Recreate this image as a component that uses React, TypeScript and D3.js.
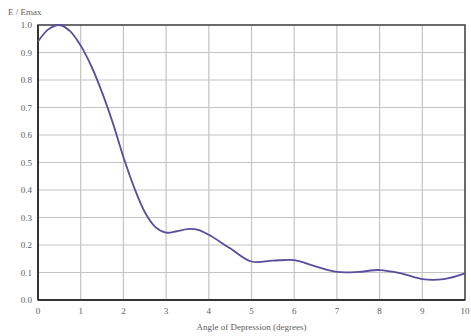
import { useEffect, useRef } from 'react';
import * as d3 from 'd3';

// angle of depression (degrees) vs relative field strength E / Emax
const angles = [0, 0.25, 0.5, 0.75, 1, 1.25, 1.5, 1.75, 2, 2.25, 2.5, 2.75, 3, 3.25, 3.5, 3.75, 4, 4.5, 5, 5.5, 6, 6.5, 7, 7.5, 8, 8.5, 9, 9.5, 10];
const ratios = [0.94, 0.985, 1.0, 0.978, 0.925, 0.85, 0.755, 0.645, 0.52, 0.41, 0.32, 0.265, 0.245, 0.25, 0.258, 0.255, 0.237, 0.188, 0.14, 0.143, 0.145, 0.122, 0.102, 0.102, 0.109, 0.097, 0.076, 0.076, 0.097];

const xTicks = [0, 1, 2, 3, 4, 5, 6, 7, 8, 9, 10];
const yTicks = [0, 0.1, 0.2, 0.3, 0.4, 0.5, 0.6, 0.7, 0.8, 0.9, 1.0];

const App = () => {
    const ref = useRef<SVGSVGElement>(null);

    useEffect(() => {
        const svg = d3.select(ref.current);
        svg.selectAll('*').remove();

        const width = 471;
        const height = 336;
        const margin = { top: 25, right: 6, bottom: 36, left: 38 };

        const x = d3.scaleLinear()
            .domain([0, 10])
            .range([margin.left, width - margin.right]);

        const y = d3.scaleLinear()
            .domain([0, 1])
            .range([height - margin.bottom, margin.top]);

        const font = '"Liberation Serif", "Times New Roman", serif';

        // grid
        svg.append('g')
            .selectAll('line')
            .data(xTicks)
            .enter().append('line')
            .attr('x1', d => x(d)).attr('x2', d => x(d))
            .attr('y1', y(0)).attr('y2', y(1))
            .attr('stroke', '#c4c4c4')
            .attr('stroke-width', 1.2);

        svg.append('g')
            .selectAll('line')
            .data(yTicks)
            .enter().append('line')
            .attr('x1', x(0)).attr('x2', x(10))
            .attr('y1', d => y(d)).attr('y2', d => y(d))
            .attr('stroke', '#c4c4c4')
            .attr('stroke-width', 1.2);

        // frame
        svg.append('rect')
            .attr('x', x(0)).attr('y', y(1))
            .attr('width', x(10) - x(0))
            .attr('height', y(0) - y(1))
            .attr('fill', 'none')
            .attr('stroke', '#444')
            .attr('stroke-width', 1.5);

        svg.append('line')
            .attr('x1', x(0)).attr('x2', x(10))
            .attr('y1', y(0)).attr('y2', y(0))
            .attr('stroke', '#333')
            .attr('stroke-width', 2);

        svg.append('line')
            .attr('x1', x(0)).attr('x2', x(0))
            .attr('y1', y(0)).attr('y2', y(1))
            .attr('stroke', '#333')
            .attr('stroke-width', 2);

        // tick labels
        svg.append('g')
            .selectAll('text')
            .data(yTicks)
            .enter().append('text')
            .attr('x', x(0) - 6)
            .attr('y', d => y(d))
            .attr('dy', '0.35em')
            .attr('text-anchor', 'end')
            .attr('font-family', font)
            .attr('font-size', 9)
            .attr('fill', '#5e5e5e')
            .text(d => d.toFixed(1));

        svg.append('g')
            .selectAll('text')
            .data(xTicks)
            .enter().append('text')
            .attr('x', d => x(d))
            .attr('y', y(0) + 14)
            .attr('text-anchor', 'middle')
            .attr('font-family', font)
            .attr('font-size', 9)
            .attr('fill', '#5e5e5e')
            .text(d => d);

        // titles
        svg.append('text')
            .attr('x', 8)
            .attr('y', 15)
            .attr('font-family', font)
            .attr('font-size', 9)
            .attr('fill', '#5e5e5e')
            .text('E / Emax');

        svg.append('text')
            .attr('x', x(5))
            .attr('y', 330)
            .attr('text-anchor', 'middle')
            .attr('font-family', font)
            .attr('font-size', 9)
            .attr('fill', '#5e5e5e')
            .text('Angle of Depression (degrees)');

        // curve
        const data = angles.map((a, i) => [a, ratios[i]] as [number, number]);
        const line = d3.line<[number, number]>()
            .x(d => x(d[0]))
            .y(d => y(d[1]))
            .curve(d3.curveCatmullRom);

        svg.append('path')
            .datum(data)
            .attr('d', line)
            .attr('fill', 'none')
            .attr('stroke', '#5b4c9c')
            .attr('stroke-width', 1.8);
    }, []);

    return (
        <div style={{ position: 'fixed', left: 0, top: 0 }}>
            <svg ref={ref} width={471} height={336} style={{ display: 'block', background: '#fff' }} />
        </div>
    );
};

export default App;
